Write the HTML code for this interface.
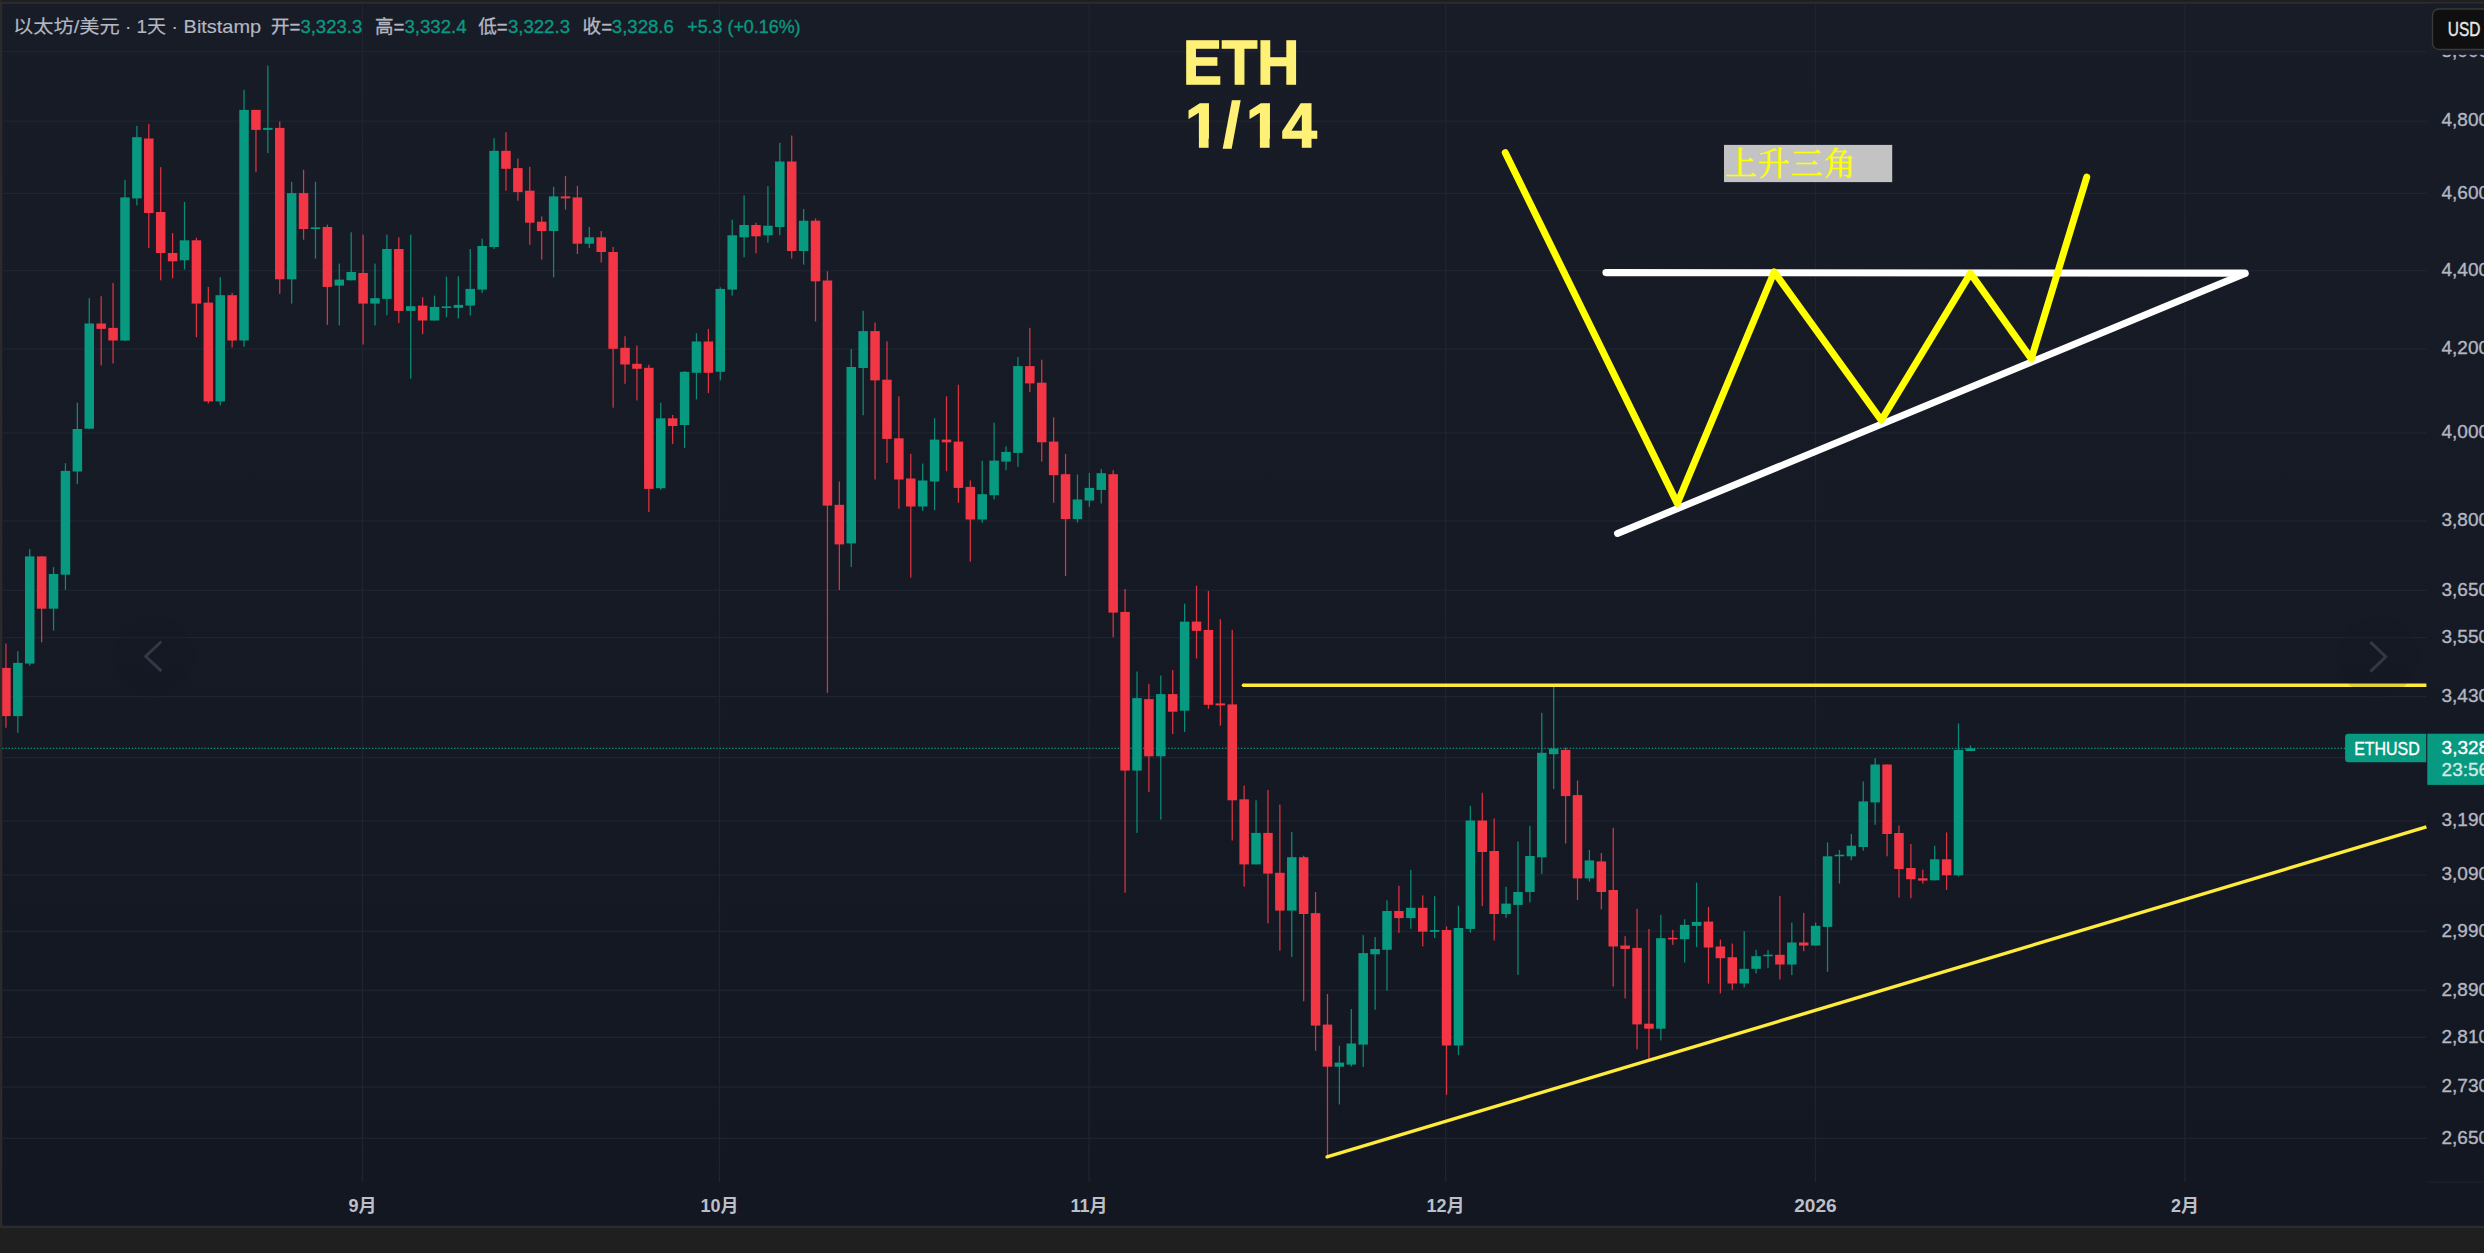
<!DOCTYPE html>
<html lang="zh-CN"><head><meta charset="utf-8"><title>ETH 1/14</title>
<style>html,body{margin:0;padding:0;background:#1f1f1f;overflow:hidden}body{width:2484px;height:1253px}svg text{white-space:pre}</style></head>
<body>
<svg width="2484" height="1253" viewBox="0 0 2484 1253" style="display:block">
<defs><linearGradient id="bg" gradientUnits="userSpaceOnUse" x1="0" y1="3.8" x2="0" y2="1225.8"><stop offset="0" stop-color="#181c27"/><stop offset="1" stop-color="#131722"/></linearGradient><clipPath id="pane"><rect x="2.2" y="3.8" width="2424.2" height="1178"/></clipPath></defs>
<rect x="0" y="0" width="2484" height="1253" fill="#1f1f1f"/>
<rect x="0" y="1.8" width="2484" height="1226.2" fill="#2b2c30"/>
<rect x="0" y="0" width="1" height="1228" fill="#2b2a28"/>
<rect x="2.2" y="3.8" width="2481.8" height="1222" fill="url(#bg)"/>
<rect x="2.2" y="50.85" width="2424.2" height="1.3" fill="#202432"/>
<rect x="2.2" y="120.45" width="2424.2" height="1.3" fill="#202432"/>
<rect x="2.2" y="192.75" width="2424.2" height="1.3" fill="#202432"/>
<rect x="2.2" y="269.95" width="2424.2" height="1.3" fill="#202432"/>
<rect x="2.2" y="348.35" width="2424.2" height="1.3" fill="#202432"/>
<rect x="2.2" y="432.25" width="2424.2" height="1.3" fill="#202432"/>
<rect x="2.2" y="520.25" width="2424.2" height="1.3" fill="#202432"/>
<rect x="2.2" y="589.75" width="2424.2" height="1.3" fill="#202432"/>
<rect x="2.2" y="636.95" width="2424.2" height="1.3" fill="#202432"/>
<rect x="2.2" y="695.95" width="2424.2" height="1.3" fill="#202432"/>
<rect x="2.2" y="756.95" width="2424.2" height="1.3" fill="#202432"/>
<rect x="2.2" y="820.35" width="2424.2" height="1.3" fill="#202432"/>
<rect x="2.2" y="874.35" width="2424.2" height="1.3" fill="#202432"/>
<rect x="2.2" y="930.65" width="2424.2" height="1.3" fill="#202432"/>
<rect x="2.2" y="989.65" width="2424.2" height="1.3" fill="#202432"/>
<rect x="2.2" y="1036.75" width="2424.2" height="1.3" fill="#202432"/>
<rect x="2.2" y="1086.35" width="2424.2" height="1.3" fill="#202432"/>
<rect x="2.2" y="1137.75" width="2424.2" height="1.3" fill="#202432"/>
<rect x="361.85" y="3.8" width="1.3" height="1178.2" fill="#202432"/>
<rect x="718.85" y="3.8" width="1.3" height="1178.2" fill="#202432"/>
<rect x="1088.45" y="3.8" width="1.3" height="1178.2" fill="#202432"/>
<rect x="1444.95" y="3.8" width="1.3" height="1178.2" fill="#202432"/>
<rect x="1814.85" y="3.8" width="1.3" height="1178.2" fill="#202432"/>
<rect x="2184.25" y="3.8" width="1.3" height="1178.2" fill="#202432"/>
<rect x="2426.4" y="1181.3" width="57.6" height="1.3" fill="#1f2024"/>
<line x1="2.2" y1="748.4" x2="2345" y2="748.4" stroke="#0a8f7b" stroke-width="1.35" stroke-dasharray="1.4 1.76"/>
<g clip-path="url(#pane)">
<rect x="5.30" y="643.6" width="1.25" height="84.2" fill="#f23645" fill-opacity="0.9"/><rect x="1.17" y="667.9" width="9.5" height="48.2" fill="#f23645"/>
<rect x="17.20" y="651.2" width="1.25" height="81.6" fill="#089981" fill-opacity="0.9"/><rect x="13.08" y="662.9" width="9.5" height="53.2" fill="#089981"/>
<rect x="29.11" y="549.1" width="1.25" height="116.5" fill="#089981" fill-opacity="0.9"/><rect x="24.98" y="556.4" width="9.5" height="107.2" fill="#089981"/>
<rect x="41.01" y="556.4" width="1.25" height="85.9" fill="#f23645" fill-opacity="0.9"/><rect x="36.89" y="556.4" width="9.5" height="52.3" fill="#f23645"/>
<rect x="52.92" y="567.1" width="1.25" height="63.5" fill="#089981" fill-opacity="0.9"/><rect x="48.79" y="574.0" width="9.5" height="34.7" fill="#089981"/>
<rect x="64.82" y="463.2" width="1.25" height="126.5" fill="#089981" fill-opacity="0.9"/><rect x="60.70" y="470.9" width="9.5" height="103.8" fill="#089981"/>
<rect x="76.73" y="402.7" width="1.25" height="81.5" fill="#089981" fill-opacity="0.9"/><rect x="72.61" y="429.0" width="9.5" height="42.5" fill="#089981"/>
<rect x="88.64" y="298.2" width="1.25" height="131.1" fill="#089981" fill-opacity="0.9"/><rect x="84.51" y="323.5" width="9.5" height="105.2" fill="#089981"/>
<rect x="100.54" y="296.2" width="1.25" height="69.3" fill="#f23645" fill-opacity="0.9"/><rect x="96.42" y="323.5" width="9.5" height="5.4" fill="#f23645"/>
<rect x="112.45" y="282.9" width="1.25" height="80.6" fill="#f23645" fill-opacity="0.9"/><rect x="108.32" y="327.9" width="9.5" height="12.6" fill="#f23645"/>
<rect x="124.36" y="179.8" width="1.25" height="161.2" fill="#089981" fill-opacity="0.9"/><rect x="120.23" y="197.4" width="9.5" height="143.1" fill="#089981"/>
<rect x="136.26" y="125.9" width="1.25" height="79.5" fill="#089981" fill-opacity="0.9"/><rect x="132.14" y="137.2" width="9.5" height="61.2" fill="#089981"/>
<rect x="148.17" y="123.9" width="1.25" height="124.1" fill="#f23645" fill-opacity="0.9"/><rect x="144.04" y="138.5" width="9.5" height="74.5" fill="#f23645"/>
<rect x="160.07" y="167.1" width="1.25" height="113.2" fill="#f23645" fill-opacity="0.9"/><rect x="155.95" y="212.0" width="9.5" height="41.0" fill="#f23645"/>
<rect x="171.98" y="233.0" width="1.25" height="45.3" fill="#f23645" fill-opacity="0.9"/><rect x="167.85" y="253.0" width="9.5" height="8.3" fill="#f23645"/>
<rect x="183.89" y="202.0" width="1.25" height="67.6" fill="#089981" fill-opacity="0.9"/><rect x="179.76" y="240.3" width="9.5" height="20.0" fill="#089981"/>
<rect x="195.79" y="237.7" width="1.25" height="99.5" fill="#f23645" fill-opacity="0.9"/><rect x="191.67" y="240.3" width="9.5" height="63.3" fill="#f23645"/>
<rect x="207.70" y="286.9" width="1.25" height="116.5" fill="#f23645" fill-opacity="0.9"/><rect x="203.57" y="302.6" width="9.5" height="98.8" fill="#f23645"/>
<rect x="219.60" y="277.3" width="1.25" height="128.1" fill="#089981" fill-opacity="0.9"/><rect x="215.48" y="295.2" width="9.5" height="106.2" fill="#089981"/>
<rect x="231.51" y="292.9" width="1.25" height="54.6" fill="#f23645" fill-opacity="0.9"/><rect x="227.38" y="295.2" width="9.5" height="45.3" fill="#f23645"/>
<rect x="243.42" y="89.9" width="1.25" height="256.9" fill="#089981" fill-opacity="0.9"/><rect x="239.29" y="109.9" width="9.5" height="230.6" fill="#089981"/>
<rect x="255.32" y="109.9" width="1.25" height="62.2" fill="#f23645" fill-opacity="0.9"/><rect x="251.20" y="109.9" width="9.5" height="20.0" fill="#f23645"/>
<rect x="267.23" y="65.6" width="1.25" height="87.5" fill="#089981" fill-opacity="0.9"/><rect x="263.10" y="127.9" width="9.5" height="2.0" fill="#089981"/>
<rect x="279.13" y="121.5" width="1.25" height="172.4" fill="#f23645" fill-opacity="0.9"/><rect x="275.01" y="127.9" width="9.5" height="151.4" fill="#f23645"/>
<rect x="291.04" y="181.8" width="1.25" height="121.8" fill="#089981" fill-opacity="0.9"/><rect x="286.91" y="193.1" width="9.5" height="86.2" fill="#089981"/>
<rect x="302.95" y="169.8" width="1.25" height="69.9" fill="#f23645" fill-opacity="0.9"/><rect x="298.82" y="193.1" width="9.5" height="35.9" fill="#f23645"/>
<rect x="314.85" y="181.8" width="1.25" height="76.8" fill="#089981" fill-opacity="0.9"/><rect x="310.73" y="227.4" width="9.5" height="1.6" fill="#089981"/>
<rect x="326.76" y="224.7" width="1.25" height="100.2" fill="#f23645" fill-opacity="0.9"/><rect x="322.63" y="227.0" width="9.5" height="59.9" fill="#f23645"/>
<rect x="338.66" y="263.6" width="1.25" height="61.9" fill="#089981" fill-opacity="0.9"/><rect x="334.54" y="279.6" width="9.5" height="6.0" fill="#089981"/>
<rect x="350.57" y="232.3" width="1.25" height="48.0" fill="#089981" fill-opacity="0.9"/><rect x="346.44" y="272.0" width="9.5" height="8.3" fill="#089981"/>
<rect x="362.48" y="234.7" width="1.25" height="109.8" fill="#f23645" fill-opacity="0.9"/><rect x="358.35" y="273.0" width="9.5" height="30.6" fill="#f23645"/>
<rect x="374.38" y="263.6" width="1.25" height="61.9" fill="#089981" fill-opacity="0.9"/><rect x="370.26" y="298.2" width="9.5" height="5.4" fill="#089981"/>
<rect x="386.29" y="234.7" width="1.25" height="80.5" fill="#089981" fill-opacity="0.9"/><rect x="382.16" y="249.0" width="9.5" height="49.9" fill="#089981"/>
<rect x="398.19" y="237.3" width="1.25" height="85.6" fill="#f23645" fill-opacity="0.9"/><rect x="394.07" y="249.0" width="9.5" height="61.9" fill="#f23645"/>
<rect x="410.10" y="234.7" width="1.25" height="144.1" fill="#089981" fill-opacity="0.9"/><rect x="405.97" y="306.2" width="9.5" height="4.7" fill="#089981"/>
<rect x="422.00" y="297.2" width="1.25" height="37.0" fill="#f23645" fill-opacity="0.9"/><rect x="417.88" y="305.6" width="9.5" height="14.9" fill="#f23645"/>
<rect x="433.91" y="295.6" width="1.25" height="24.9" fill="#089981" fill-opacity="0.9"/><rect x="429.79" y="306.9" width="9.5" height="13.6" fill="#089981"/>
<rect x="445.82" y="276.6" width="1.25" height="40.6" fill="#089981" fill-opacity="0.9"/><rect x="441.69" y="306.4" width="9.5" height="1.6" fill="#089981"/>
<rect x="457.72" y="276.3" width="1.25" height="42.2" fill="#089981" fill-opacity="0.9"/><rect x="453.60" y="304.9" width="9.5" height="3.0" fill="#089981"/>
<rect x="469.63" y="249.0" width="1.25" height="66.5" fill="#089981" fill-opacity="0.9"/><rect x="465.50" y="288.9" width="9.5" height="16.7" fill="#089981"/>
<rect x="481.54" y="238.7" width="1.25" height="54.2" fill="#089981" fill-opacity="0.9"/><rect x="477.41" y="246.0" width="9.5" height="43.6" fill="#089981"/>
<rect x="493.44" y="138.2" width="1.25" height="110.8" fill="#089981" fill-opacity="0.9"/><rect x="489.32" y="150.8" width="9.5" height="96.2" fill="#089981"/>
<rect x="505.35" y="132.2" width="1.25" height="58.5" fill="#f23645" fill-opacity="0.9"/><rect x="501.22" y="150.8" width="9.5" height="18.0" fill="#f23645"/>
<rect x="517.25" y="158.5" width="1.25" height="42.2" fill="#f23645" fill-opacity="0.9"/><rect x="513.13" y="168.1" width="9.5" height="24.0" fill="#f23645"/>
<rect x="529.16" y="166.8" width="1.25" height="77.9" fill="#f23645" fill-opacity="0.9"/><rect x="525.03" y="190.7" width="9.5" height="32.0" fill="#f23645"/>
<rect x="541.07" y="216.4" width="1.25" height="43.2" fill="#f23645" fill-opacity="0.9"/><rect x="536.94" y="221.7" width="9.5" height="9.3" fill="#f23645"/>
<rect x="552.97" y="186.8" width="1.25" height="90.5" fill="#089981" fill-opacity="0.9"/><rect x="548.85" y="196.4" width="9.5" height="34.6" fill="#089981"/>
<rect x="564.88" y="176.1" width="1.25" height="33.6" fill="#f23645" fill-opacity="0.9"/><rect x="560.75" y="196.4" width="9.5" height="2.0" fill="#f23645"/>
<rect x="576.78" y="185.8" width="1.25" height="68.2" fill="#f23645" fill-opacity="0.9"/><rect x="572.66" y="197.4" width="9.5" height="46.3" fill="#f23645"/>
<rect x="588.69" y="227.0" width="1.25" height="21.0" fill="#089981" fill-opacity="0.9"/><rect x="584.56" y="237.3" width="9.5" height="6.4" fill="#089981"/>
<rect x="600.60" y="231.0" width="1.25" height="31.6" fill="#f23645" fill-opacity="0.9"/><rect x="596.47" y="237.3" width="9.5" height="14.7" fill="#f23645"/>
<rect x="612.50" y="247.0" width="1.25" height="160.7" fill="#f23645" fill-opacity="0.9"/><rect x="608.38" y="252.0" width="9.5" height="96.8" fill="#f23645"/>
<rect x="624.41" y="336.2" width="1.25" height="47.6" fill="#f23645" fill-opacity="0.9"/><rect x="620.28" y="347.8" width="9.5" height="16.7" fill="#f23645"/>
<rect x="636.31" y="345.5" width="1.25" height="54.9" fill="#f23645" fill-opacity="0.9"/><rect x="632.19" y="363.8" width="9.5" height="5.0" fill="#f23645"/>
<rect x="648.22" y="364.8" width="1.25" height="147.3" fill="#f23645" fill-opacity="0.9"/><rect x="644.09" y="367.8" width="9.5" height="121.1" fill="#f23645"/>
<rect x="660.12" y="402.7" width="1.25" height="87.2" fill="#089981" fill-opacity="0.9"/><rect x="656.00" y="418.3" width="9.5" height="69.9" fill="#089981"/>
<rect x="672.03" y="415.0" width="1.25" height="28.9" fill="#f23645" fill-opacity="0.9"/><rect x="667.91" y="418.3" width="9.5" height="7.7" fill="#f23645"/>
<rect x="683.94" y="371.1" width="1.25" height="76.9" fill="#089981" fill-opacity="0.9"/><rect x="679.81" y="371.8" width="9.5" height="53.2" fill="#089981"/>
<rect x="695.84" y="333.2" width="1.25" height="66.2" fill="#089981" fill-opacity="0.9"/><rect x="691.72" y="341.5" width="9.5" height="31.3" fill="#089981"/>
<rect x="707.75" y="328.9" width="1.25" height="64.2" fill="#f23645" fill-opacity="0.9"/><rect x="703.62" y="341.5" width="9.5" height="31.3" fill="#f23645"/>
<rect x="719.65" y="287.3" width="1.25" height="93.1" fill="#089981" fill-opacity="0.9"/><rect x="715.53" y="288.9" width="9.5" height="82.9" fill="#089981"/>
<rect x="731.56" y="219.7" width="1.25" height="75.9" fill="#089981" fill-opacity="0.9"/><rect x="727.44" y="235.3" width="9.5" height="54.3" fill="#089981"/>
<rect x="743.47" y="195.4" width="1.25" height="61.9" fill="#089981" fill-opacity="0.9"/><rect x="739.34" y="225.0" width="9.5" height="12.3" fill="#089981"/>
<rect x="755.37" y="222.7" width="1.25" height="30.6" fill="#f23645" fill-opacity="0.9"/><rect x="751.25" y="225.0" width="9.5" height="11.3" fill="#f23645"/>
<rect x="767.28" y="186.1" width="1.25" height="56.6" fill="#089981" fill-opacity="0.9"/><rect x="763.15" y="225.7" width="9.5" height="9.6" fill="#089981"/>
<rect x="779.19" y="142.8" width="1.25" height="92.5" fill="#089981" fill-opacity="0.9"/><rect x="775.06" y="161.5" width="9.5" height="65.5" fill="#089981"/>
<rect x="791.09" y="135.5" width="1.25" height="123.1" fill="#f23645" fill-opacity="0.9"/><rect x="786.97" y="161.5" width="9.5" height="89.5" fill="#f23645"/>
<rect x="803.00" y="209.0" width="1.25" height="55.6" fill="#089981" fill-opacity="0.9"/><rect x="798.87" y="220.7" width="9.5" height="30.3" fill="#089981"/>
<rect x="814.90" y="218.4" width="1.25" height="103.1" fill="#f23645" fill-opacity="0.9"/><rect x="810.78" y="220.7" width="9.5" height="60.6" fill="#f23645"/>
<rect x="826.81" y="271.3" width="1.25" height="421.5" fill="#f23645" fill-opacity="0.9"/><rect x="822.68" y="280.5" width="9.5" height="225.1" fill="#f23645"/>
<rect x="838.72" y="481.5" width="1.25" height="108.5" fill="#f23645" fill-opacity="0.9"/><rect x="834.59" y="504.8" width="9.5" height="39.6" fill="#f23645"/>
<rect x="850.62" y="349.0" width="1.25" height="218.0" fill="#089981" fill-opacity="0.9"/><rect x="846.50" y="367.0" width="9.5" height="176.4" fill="#089981"/>
<rect x="862.53" y="310.8" width="1.25" height="104.5" fill="#089981" fill-opacity="0.9"/><rect x="858.40" y="331.1" width="9.5" height="36.9" fill="#089981"/>
<rect x="874.43" y="322.5" width="1.25" height="157.0" fill="#f23645" fill-opacity="0.9"/><rect x="870.31" y="331.1" width="9.5" height="49.3" fill="#f23645"/>
<rect x="886.34" y="341.4" width="1.25" height="121.5" fill="#f23645" fill-opacity="0.9"/><rect x="882.21" y="379.7" width="9.5" height="59.2" fill="#f23645"/>
<rect x="898.25" y="396.3" width="1.25" height="112.5" fill="#f23645" fill-opacity="0.9"/><rect x="894.12" y="438.3" width="9.5" height="41.2" fill="#f23645"/>
<rect x="910.15" y="453.9" width="1.25" height="123.8" fill="#f23645" fill-opacity="0.9"/><rect x="906.03" y="478.5" width="9.5" height="28.0" fill="#f23645"/>
<rect x="922.06" y="463.6" width="1.25" height="47.2" fill="#089981" fill-opacity="0.9"/><rect x="917.93" y="480.5" width="9.5" height="26.0" fill="#089981"/>
<rect x="933.96" y="418.3" width="1.25" height="91.8" fill="#089981" fill-opacity="0.9"/><rect x="929.84" y="439.6" width="9.5" height="41.9" fill="#089981"/>
<rect x="945.87" y="396.3" width="1.25" height="74.9" fill="#f23645" fill-opacity="0.9"/><rect x="941.74" y="439.6" width="9.5" height="2.7" fill="#f23645"/>
<rect x="957.78" y="384.7" width="1.25" height="118.1" fill="#f23645" fill-opacity="0.9"/><rect x="953.65" y="441.6" width="9.5" height="46.3" fill="#f23645"/>
<rect x="969.68" y="480.5" width="1.25" height="81.2" fill="#f23645" fill-opacity="0.9"/><rect x="965.56" y="486.9" width="9.5" height="32.6" fill="#f23645"/>
<rect x="981.59" y="460.6" width="1.25" height="62.2" fill="#089981" fill-opacity="0.9"/><rect x="977.46" y="494.2" width="9.5" height="25.3" fill="#089981"/>
<rect x="993.49" y="422.6" width="1.25" height="76.9" fill="#089981" fill-opacity="0.9"/><rect x="989.37" y="460.6" width="9.5" height="34.6" fill="#089981"/>
<rect x="1005.40" y="446.3" width="1.25" height="23.9" fill="#089981" fill-opacity="0.9"/><rect x="1001.27" y="451.9" width="9.5" height="9.7" fill="#089981"/>
<rect x="1017.31" y="357.1" width="1.25" height="109.8" fill="#089981" fill-opacity="0.9"/><rect x="1013.18" y="366.1" width="9.5" height="86.8" fill="#089981"/>
<rect x="1029.21" y="327.8" width="1.25" height="64.2" fill="#f23645" fill-opacity="0.9"/><rect x="1025.09" y="366.1" width="9.5" height="17.3" fill="#f23645"/>
<rect x="1041.12" y="359.7" width="1.25" height="101.9" fill="#f23645" fill-opacity="0.9"/><rect x="1036.99" y="382.7" width="9.5" height="59.6" fill="#f23645"/>
<rect x="1053.02" y="417.3" width="1.25" height="85.5" fill="#f23645" fill-opacity="0.9"/><rect x="1048.90" y="441.6" width="9.5" height="33.6" fill="#f23645"/>
<rect x="1064.93" y="453.9" width="1.25" height="122.1" fill="#f23645" fill-opacity="0.9"/><rect x="1060.80" y="474.2" width="9.5" height="44.9" fill="#f23645"/>
<rect x="1076.84" y="474.5" width="1.25" height="48.0" fill="#089981" fill-opacity="0.9"/><rect x="1072.71" y="499.5" width="9.5" height="19.6" fill="#089981"/>
<rect x="1088.74" y="472.9" width="1.25" height="33.9" fill="#089981" fill-opacity="0.9"/><rect x="1084.62" y="487.9" width="9.5" height="12.6" fill="#089981"/>
<rect x="1100.65" y="468.9" width="1.25" height="34.6" fill="#089981" fill-opacity="0.9"/><rect x="1096.52" y="473.2" width="9.5" height="16.7" fill="#089981"/>
<rect x="1112.55" y="470.2" width="1.25" height="167.0" fill="#f23645" fill-opacity="0.9"/><rect x="1108.43" y="474.2" width="9.5" height="138.4" fill="#f23645"/>
<rect x="1124.46" y="589.0" width="1.25" height="303.8" fill="#f23645" fill-opacity="0.9"/><rect x="1120.33" y="611.9" width="9.5" height="158.7" fill="#f23645"/>
<rect x="1136.37" y="671.5" width="1.25" height="161.4" fill="#089981" fill-opacity="0.9"/><rect x="1132.24" y="698.1" width="9.5" height="72.5" fill="#089981"/>
<rect x="1148.27" y="683.8" width="1.25" height="108.2" fill="#f23645" fill-opacity="0.9"/><rect x="1144.15" y="699.1" width="9.5" height="57.2" fill="#f23645"/>
<rect x="1160.18" y="675.5" width="1.25" height="144.1" fill="#089981" fill-opacity="0.9"/><rect x="1156.05" y="694.1" width="9.5" height="62.2" fill="#089981"/>
<rect x="1172.08" y="670.1" width="1.25" height="63.9" fill="#f23645" fill-opacity="0.9"/><rect x="1167.96" y="694.1" width="9.5" height="17.6" fill="#f23645"/>
<rect x="1183.99" y="603.6" width="1.25" height="128.4" fill="#089981" fill-opacity="0.9"/><rect x="1179.86" y="621.6" width="9.5" height="89.1" fill="#089981"/>
<rect x="1195.89" y="585.6" width="1.25" height="72.9" fill="#f23645" fill-opacity="0.9"/><rect x="1191.77" y="621.6" width="9.5" height="9.3" fill="#f23645"/>
<rect x="1207.80" y="591.0" width="1.25" height="117.8" fill="#f23645" fill-opacity="0.9"/><rect x="1203.68" y="629.9" width="9.5" height="74.9" fill="#f23645"/>
<rect x="1219.71" y="619.2" width="1.25" height="106.5" fill="#f23645" fill-opacity="0.9"/><rect x="1215.58" y="703.4" width="9.5" height="2.0" fill="#f23645"/>
<rect x="1231.61" y="629.9" width="1.25" height="210.6" fill="#f23645" fill-opacity="0.9"/><rect x="1227.49" y="704.4" width="9.5" height="95.9" fill="#f23645"/>
<rect x="1243.52" y="785.6" width="1.25" height="101.1" fill="#f23645" fill-opacity="0.9"/><rect x="1239.39" y="799.3" width="9.5" height="65.1" fill="#f23645"/>
<rect x="1255.43" y="800.3" width="1.25" height="64.1" fill="#089981" fill-opacity="0.9"/><rect x="1251.30" y="832.9" width="9.5" height="31.5" fill="#089981"/>
<rect x="1267.33" y="790.0" width="1.25" height="133.4" fill="#f23645" fill-opacity="0.9"/><rect x="1263.21" y="832.9" width="9.5" height="40.7" fill="#f23645"/>
<rect x="1279.24" y="804.6" width="1.25" height="146.1" fill="#f23645" fill-opacity="0.9"/><rect x="1275.11" y="872.8" width="9.5" height="37.8" fill="#f23645"/>
<rect x="1291.14" y="832.0" width="1.25" height="125.0" fill="#089981" fill-opacity="0.9"/><rect x="1287.02" y="857.2" width="9.5" height="53.4" fill="#089981"/>
<rect x="1303.05" y="855.7" width="1.25" height="145.6" fill="#f23645" fill-opacity="0.9"/><rect x="1298.92" y="857.2" width="9.5" height="56.8" fill="#f23645"/>
<rect x="1314.95" y="892.0" width="1.25" height="158.8" fill="#f23645" fill-opacity="0.9"/><rect x="1310.83" y="913.1" width="9.5" height="112.5" fill="#f23645"/>
<rect x="1326.86" y="994.0" width="1.25" height="163.0" fill="#f23645" fill-opacity="0.9"/><rect x="1322.74" y="1024.6" width="9.5" height="42.1" fill="#f23645"/>
<rect x="1338.77" y="1045.7" width="1.25" height="58.8" fill="#089981" fill-opacity="0.9"/><rect x="1334.64" y="1062.6" width="9.5" height="4.1" fill="#089981"/>
<rect x="1350.67" y="1009.0" width="1.25" height="57.5" fill="#089981" fill-opacity="0.9"/><rect x="1346.55" y="1043.5" width="9.5" height="21.1" fill="#089981"/>
<rect x="1362.58" y="935.1" width="1.25" height="131.8" fill="#089981" fill-opacity="0.9"/><rect x="1358.45" y="953.1" width="9.5" height="91.5" fill="#089981"/>
<rect x="1374.49" y="937.1" width="1.25" height="72.6" fill="#089981" fill-opacity="0.9"/><rect x="1370.36" y="949.0" width="9.5" height="5.3" fill="#089981"/>
<rect x="1386.39" y="900.3" width="1.25" height="90.4" fill="#089981" fill-opacity="0.9"/><rect x="1382.27" y="911.0" width="9.5" height="38.8" fill="#089981"/>
<rect x="1398.30" y="885.7" width="1.25" height="47.2" fill="#f23645" fill-opacity="0.9"/><rect x="1394.17" y="911.0" width="9.5" height="7.1" fill="#f23645"/>
<rect x="1410.20" y="869.9" width="1.25" height="58.9" fill="#089981" fill-opacity="0.9"/><rect x="1406.08" y="907.8" width="9.5" height="10.3" fill="#089981"/>
<rect x="1422.11" y="895.4" width="1.25" height="51.0" fill="#f23645" fill-opacity="0.9"/><rect x="1417.98" y="907.8" width="9.5" height="23.9" fill="#f23645"/>
<rect x="1434.01" y="896.2" width="1.25" height="41.9" fill="#089981" fill-opacity="0.9"/><rect x="1429.89" y="930.1" width="9.5" height="1.7" fill="#089981"/>
<rect x="1445.92" y="926.5" width="1.25" height="168.3" fill="#f23645" fill-opacity="0.9"/><rect x="1441.80" y="930.0" width="9.5" height="115.5" fill="#f23645"/>
<rect x="1457.83" y="905.7" width="1.25" height="149.4" fill="#089981" fill-opacity="0.9"/><rect x="1453.70" y="928.0" width="9.5" height="117.5" fill="#089981"/>
<rect x="1469.73" y="805.9" width="1.25" height="126.8" fill="#089981" fill-opacity="0.9"/><rect x="1465.61" y="820.5" width="9.5" height="108.4" fill="#089981"/>
<rect x="1481.64" y="792.8" width="1.25" height="113.2" fill="#f23645" fill-opacity="0.9"/><rect x="1477.51" y="820.5" width="9.5" height="31.5" fill="#f23645"/>
<rect x="1493.55" y="818.4" width="1.25" height="122.1" fill="#f23645" fill-opacity="0.9"/><rect x="1489.42" y="851.0" width="9.5" height="63.0" fill="#f23645"/>
<rect x="1505.45" y="886.8" width="1.25" height="31.0" fill="#089981" fill-opacity="0.9"/><rect x="1501.33" y="903.6" width="9.5" height="10.4" fill="#089981"/>
<rect x="1517.36" y="841.5" width="1.25" height="133.4" fill="#089981" fill-opacity="0.9"/><rect x="1513.23" y="892.0" width="9.5" height="12.9" fill="#089981"/>
<rect x="1529.26" y="825.8" width="1.25" height="76.5" fill="#089981" fill-opacity="0.9"/><rect x="1525.14" y="856.0" width="9.5" height="36.0" fill="#089981"/>
<rect x="1541.17" y="712.9" width="1.25" height="161.1" fill="#089981" fill-opacity="0.9"/><rect x="1537.04" y="752.8" width="9.5" height="104.5" fill="#089981"/>
<rect x="1553.08" y="685.6" width="1.25" height="103.5" fill="#089981" fill-opacity="0.9"/><rect x="1548.95" y="748.5" width="9.5" height="5.7" fill="#089981"/>
<rect x="1564.98" y="747.5" width="1.25" height="96.0" fill="#f23645" fill-opacity="0.9"/><rect x="1560.86" y="749.9" width="9.5" height="46.2" fill="#f23645"/>
<rect x="1576.89" y="780.5" width="1.25" height="119.5" fill="#f23645" fill-opacity="0.9"/><rect x="1572.76" y="795.1" width="9.5" height="83.3" fill="#f23645"/>
<rect x="1588.79" y="850.0" width="1.25" height="31.6" fill="#089981" fill-opacity="0.9"/><rect x="1584.67" y="860.4" width="9.5" height="18.0" fill="#089981"/>
<rect x="1600.70" y="853.0" width="1.25" height="56.4" fill="#f23645" fill-opacity="0.9"/><rect x="1596.57" y="861.4" width="9.5" height="30.6" fill="#f23645"/>
<rect x="1612.61" y="827.7" width="1.25" height="158.8" fill="#f23645" fill-opacity="0.9"/><rect x="1608.48" y="890.0" width="9.5" height="56.5" fill="#f23645"/>
<rect x="1624.51" y="936.2" width="1.25" height="62.2" fill="#f23645" fill-opacity="0.9"/><rect x="1620.39" y="945.5" width="9.5" height="3.4" fill="#f23645"/>
<rect x="1636.42" y="908.9" width="1.25" height="140.5" fill="#f23645" fill-opacity="0.9"/><rect x="1632.29" y="947.9" width="9.5" height="76.5" fill="#f23645"/>
<rect x="1648.32" y="928.9" width="1.25" height="131.4" fill="#f23645" fill-opacity="0.9"/><rect x="1644.20" y="1023.7" width="9.5" height="5.0" fill="#f23645"/>
<rect x="1660.23" y="914.9" width="1.25" height="125.5" fill="#089981" fill-opacity="0.9"/><rect x="1656.10" y="938.2" width="9.5" height="90.5" fill="#089981"/>
<rect x="1672.14" y="929.9" width="1.25" height="15.0" fill="#f23645" fill-opacity="0.9"/><rect x="1668.01" y="937.8" width="9.5" height="1.6" fill="#f23645"/>
<rect x="1684.04" y="919.2" width="1.25" height="43.3" fill="#089981" fill-opacity="0.9"/><rect x="1679.92" y="924.9" width="9.5" height="14.3" fill="#089981"/>
<rect x="1695.95" y="882.6" width="1.25" height="64.3" fill="#089981" fill-opacity="0.9"/><rect x="1691.82" y="921.9" width="9.5" height="4.0" fill="#089981"/>
<rect x="1707.85" y="906.9" width="1.25" height="76.6" fill="#f23645" fill-opacity="0.9"/><rect x="1703.73" y="921.6" width="9.5" height="25.9" fill="#f23645"/>
<rect x="1719.76" y="939.5" width="1.25" height="53.9" fill="#f23645" fill-opacity="0.9"/><rect x="1715.63" y="946.5" width="9.5" height="11.7" fill="#f23645"/>
<rect x="1731.66" y="943.5" width="1.25" height="46.6" fill="#f23645" fill-opacity="0.9"/><rect x="1727.54" y="957.2" width="9.5" height="26.3" fill="#f23645"/>
<rect x="1743.57" y="931.2" width="1.25" height="56.3" fill="#089981" fill-opacity="0.9"/><rect x="1739.45" y="968.8" width="9.5" height="14.7" fill="#089981"/>
<rect x="1755.48" y="949.9" width="1.25" height="23.6" fill="#089981" fill-opacity="0.9"/><rect x="1751.35" y="956.2" width="9.5" height="12.6" fill="#089981"/>
<rect x="1767.38" y="949.9" width="1.25" height="18.3" fill="#089981" fill-opacity="0.9"/><rect x="1763.26" y="954.7" width="9.5" height="1.6" fill="#089981"/>
<rect x="1779.29" y="895.9" width="1.25" height="83.6" fill="#f23645" fill-opacity="0.9"/><rect x="1775.16" y="954.8" width="9.5" height="9.7" fill="#f23645"/>
<rect x="1791.20" y="922.6" width="1.25" height="52.5" fill="#089981" fill-opacity="0.9"/><rect x="1787.07" y="942.5" width="9.5" height="22.0" fill="#089981"/>
<rect x="1803.10" y="912.9" width="1.25" height="38.3" fill="#f23645" fill-opacity="0.9"/><rect x="1798.98" y="942.5" width="9.5" height="3.0" fill="#f23645"/>
<rect x="1815.01" y="922.6" width="1.25" height="22.9" fill="#089981" fill-opacity="0.9"/><rect x="1810.88" y="925.8" width="9.5" height="19.7" fill="#089981"/>
<rect x="1826.91" y="842.4" width="1.25" height="129.4" fill="#089981" fill-opacity="0.9"/><rect x="1822.79" y="856.3" width="9.5" height="70.6" fill="#089981"/>
<rect x="1838.82" y="850.0" width="1.25" height="33.6" fill="#089981" fill-opacity="0.9"/><rect x="1834.69" y="854.7" width="9.5" height="1.6" fill="#089981"/>
<rect x="1850.72" y="834.0" width="1.25" height="26.3" fill="#089981" fill-opacity="0.9"/><rect x="1846.60" y="845.7" width="9.5" height="10.6" fill="#089981"/>
<rect x="1862.63" y="781.5" width="1.25" height="69.2" fill="#089981" fill-opacity="0.9"/><rect x="1858.51" y="801.4" width="9.5" height="45.6" fill="#089981"/>
<rect x="1874.54" y="758.2" width="1.25" height="66.5" fill="#089981" fill-opacity="0.9"/><rect x="1870.41" y="764.5" width="9.5" height="37.9" fill="#089981"/>
<rect x="1886.44" y="764.5" width="1.25" height="91.8" fill="#f23645" fill-opacity="0.9"/><rect x="1882.32" y="764.5" width="9.5" height="69.5" fill="#f23645"/>
<rect x="1898.35" y="825.4" width="1.25" height="72.2" fill="#f23645" fill-opacity="0.9"/><rect x="1894.22" y="833.0" width="9.5" height="36.0" fill="#f23645"/>
<rect x="1910.26" y="844.0" width="1.25" height="54.3" fill="#f23645" fill-opacity="0.9"/><rect x="1906.13" y="868.0" width="9.5" height="11.3" fill="#f23645"/>
<rect x="1922.16" y="869.7" width="1.25" height="13.9" fill="#f23645" fill-opacity="0.9"/><rect x="1918.04" y="878.3" width="9.5" height="2.3" fill="#f23645"/>
<rect x="1934.07" y="845.7" width="1.25" height="34.6" fill="#089981" fill-opacity="0.9"/><rect x="1929.94" y="859.3" width="9.5" height="21.0" fill="#089981"/>
<rect x="1945.97" y="832.4" width="1.25" height="57.6" fill="#f23645" fill-opacity="0.9"/><rect x="1941.85" y="859.3" width="9.5" height="16.0" fill="#f23645"/>
<rect x="1957.88" y="723.5" width="1.25" height="152.8" fill="#089981" fill-opacity="0.9"/><rect x="1953.75" y="749.9" width="9.5" height="125.4" fill="#089981"/>
<rect x="1969.79" y="745.5" width="1.25" height="5.5" fill="#089981" fill-opacity="0.9"/><rect x="1965.66" y="748.3" width="9.5" height="2.7" fill="#089981"/>
</g>
<line x1="1243.5" y1="685.2" x2="2426.4" y2="685.2" stroke="#ffeb3b" stroke-width="3.6" stroke-linecap="butt"/>
<circle cx="1243.5" cy="685.2" r="1.8" fill="#ffeb3b"/>
<line x1="1327" y1="1156.9" x2="2426.4" y2="826.9" stroke="#ffeb3b" stroke-width="3.4" stroke-linecap="butt"/>
<circle cx="1327" cy="1156.9" r="1.7" fill="#ffeb3b"/>
<circle cx="153.7" cy="656.5" r="40" fill="#0c0e16" fill-opacity="0.11"/>
<circle cx="2377.6" cy="656.7" r="40" fill="#0c0e16" fill-opacity="0.11"/>
<polyline points="161.4,641.5 145.6,656.3 161.4,671.2" fill="none" stroke="#333746" stroke-width="3"/>
<polyline points="2370.4,642.1 2385.7,656.7 2370.4,671.6" fill="none" stroke="#333746" stroke-width="3"/>
<line x1="1606" y1="272.6" x2="2245" y2="273.2" stroke="#ffffff" stroke-width="7.2" stroke-linecap="round"/>
<line x1="1617.5" y1="533.4" x2="2245" y2="273.6" stroke="#ffffff" stroke-width="7" stroke-linecap="round"/>
<polyline points="1505.3,152.7 1677.3,503.4 1774.2,272 1881.3,420.2 1970.5,273.4 2031.3,358.8 2086.7,177.2" fill="none" stroke="#ffff00" stroke-width="7" stroke-linecap="round" stroke-linejoin="round"/>
<rect x="1724" y="144.9" width="168.2" height="37.2" fill="#c3c3c3"/>
<text x="1724.8" y="175.0" font-family="'Liberation Serif','Noto Serif CJK SC',serif" font-size="32" fill="#ffff00" stroke="#ffff00" stroke-width="0.45" textLength="131" lengthAdjust="spacing">上升三角</text>
<text x="1182.9" y="83.9" font-family="'Liberation Sans','Noto Sans CJK SC',sans-serif" font-size="62.7" font-weight="bold" fill="#fff176" stroke="#fff176" stroke-width="1.4" textLength="116.5" lengthAdjust="spacingAndGlyphs">ETH</text>
<text x="1184.9 1222.9 1245.9 1282.0" y="147.0" font-family="'Liberation Sans','Noto Sans CJK SC',sans-serif" font-size="62.7" font-weight="bold" fill="#fff176" stroke="#fff176" stroke-width="1.4">1/14</text>
<rect x="1187.3" y="138.6" width="11.6" height="10.4" fill="url(#bg)"/><rect x="1208.6" y="138.6" width="11.0" height="10.4" fill="url(#bg)"/>
<rect x="1248.3" y="138.6" width="11.6" height="10.4" fill="url(#bg)"/><rect x="1269.6" y="138.6" width="11.0" height="10.4" fill="url(#bg)"/>
<text y="32.8" font-family="'Liberation Sans','Noto Sans CJK SC',sans-serif" font-size="18.5" fill="#b4b7c1" stroke="#b4b7c1" stroke-width="0.15"><tspan x="12.9" textLength="106.9" lengthAdjust="spacingAndGlyphs">以太坊/美元</tspan><tspan x="119.6" textLength="63.5" lengthAdjust="spacingAndGlyphs"> · 1天 · </tspan><tspan x="183.6" textLength="77.5" lengthAdjust="spacingAndGlyphs">Bitstamp</tspan></text>
<text x="271.0" y="32.8" font-family="'Liberation Sans','Noto Sans CJK SC',sans-serif" font-size="18.5" fill="#b4b7c1" textLength="29.4" lengthAdjust="spacingAndGlyphs" stroke="#b4b7c1" stroke-width="0.35">开=</text>
<text x="300.4" y="32.8" font-family="'Liberation Sans','Noto Sans CJK SC',sans-serif" font-size="18.5" fill="#089981" textLength="61.8" lengthAdjust="spacingAndGlyphs" stroke="#089981" stroke-width="0.35">3,323.3</text>
<text x="375.0" y="32.8" font-family="'Liberation Sans','Noto Sans CJK SC',sans-serif" font-size="18.5" fill="#b4b7c1" textLength="29.4" lengthAdjust="spacingAndGlyphs" stroke="#b4b7c1" stroke-width="0.35">高=</text>
<text x="404.4" y="32.8" font-family="'Liberation Sans','Noto Sans CJK SC',sans-serif" font-size="18.5" fill="#089981" textLength="62.3" lengthAdjust="spacingAndGlyphs" stroke="#089981" stroke-width="0.35">3,332.4</text>
<text x="478.2" y="32.8" font-family="'Liberation Sans','Noto Sans CJK SC',sans-serif" font-size="18.5" fill="#b4b7c1" textLength="29.4" lengthAdjust="spacingAndGlyphs" stroke="#b4b7c1" stroke-width="0.35">低=</text>
<text x="507.9" y="32.8" font-family="'Liberation Sans','Noto Sans CJK SC',sans-serif" font-size="18.5" fill="#089981" textLength="62.1" lengthAdjust="spacingAndGlyphs" stroke="#089981" stroke-width="0.35">3,322.3</text>
<text x="582.6" y="32.8" font-family="'Liberation Sans','Noto Sans CJK SC',sans-serif" font-size="18.5" fill="#b4b7c1" textLength="29.4" lengthAdjust="spacingAndGlyphs" stroke="#b4b7c1" stroke-width="0.35">收=</text>
<text x="611.8" y="32.8" font-family="'Liberation Sans','Noto Sans CJK SC',sans-serif" font-size="18.5" fill="#089981" textLength="62.0" lengthAdjust="spacingAndGlyphs" stroke="#089981" stroke-width="0.35">3,328.6</text>
<text x="687.2" y="32.8" font-family="'Liberation Sans','Noto Sans CJK SC',sans-serif" font-size="18.5" fill="#089981" textLength="113.3" lengthAdjust="spacingAndGlyphs" stroke="#089981" stroke-width="0.35">+5.3 (+0.16%)</text>
<text x="2441.5" y="56.7" font-family="'Liberation Sans','Noto Sans CJK SC',sans-serif" font-size="19" fill="#b4b7c1" stroke="#b4b7c1" stroke-width="0.35">5,000</text>
<text x="2441.5" y="126.3" font-family="'Liberation Sans','Noto Sans CJK SC',sans-serif" font-size="19" fill="#b4b7c1" stroke="#b4b7c1" stroke-width="0.35">4,800</text>
<text x="2441.5" y="198.6" font-family="'Liberation Sans','Noto Sans CJK SC',sans-serif" font-size="19" fill="#b4b7c1" stroke="#b4b7c1" stroke-width="0.35">4,600</text>
<text x="2441.5" y="275.8" font-family="'Liberation Sans','Noto Sans CJK SC',sans-serif" font-size="19" fill="#b4b7c1" stroke="#b4b7c1" stroke-width="0.35">4,400</text>
<text x="2441.5" y="354.2" font-family="'Liberation Sans','Noto Sans CJK SC',sans-serif" font-size="19" fill="#b4b7c1" stroke="#b4b7c1" stroke-width="0.35">4,200</text>
<text x="2441.5" y="438.09999999999997" font-family="'Liberation Sans','Noto Sans CJK SC',sans-serif" font-size="19" fill="#b4b7c1" stroke="#b4b7c1" stroke-width="0.35">4,000</text>
<text x="2441.5" y="526.1" font-family="'Liberation Sans','Noto Sans CJK SC',sans-serif" font-size="19" fill="#b4b7c1" stroke="#b4b7c1" stroke-width="0.35">3,800</text>
<text x="2441.5" y="595.6" font-family="'Liberation Sans','Noto Sans CJK SC',sans-serif" font-size="19" fill="#b4b7c1" stroke="#b4b7c1" stroke-width="0.35">3,650</text>
<text x="2441.5" y="642.8000000000001" font-family="'Liberation Sans','Noto Sans CJK SC',sans-serif" font-size="19" fill="#b4b7c1" stroke="#b4b7c1" stroke-width="0.35">3,550</text>
<text x="2441.5" y="701.8000000000001" font-family="'Liberation Sans','Noto Sans CJK SC',sans-serif" font-size="19" fill="#b4b7c1" stroke="#b4b7c1" stroke-width="0.35">3,430</text>
<text x="2441.5" y="826.2" font-family="'Liberation Sans','Noto Sans CJK SC',sans-serif" font-size="19" fill="#b4b7c1" stroke="#b4b7c1" stroke-width="0.35">3,190</text>
<text x="2441.5" y="880.2" font-family="'Liberation Sans','Noto Sans CJK SC',sans-serif" font-size="19" fill="#b4b7c1" stroke="#b4b7c1" stroke-width="0.35">3,090</text>
<text x="2441.5" y="936.5" font-family="'Liberation Sans','Noto Sans CJK SC',sans-serif" font-size="19" fill="#b4b7c1" stroke="#b4b7c1" stroke-width="0.35">2,990</text>
<text x="2441.5" y="995.5" font-family="'Liberation Sans','Noto Sans CJK SC',sans-serif" font-size="19" fill="#b4b7c1" stroke="#b4b7c1" stroke-width="0.35">2,890</text>
<text x="2441.5" y="1042.6000000000001" font-family="'Liberation Sans','Noto Sans CJK SC',sans-serif" font-size="19" fill="#b4b7c1" stroke="#b4b7c1" stroke-width="0.35">2,810</text>
<text x="2441.5" y="1092.2" font-family="'Liberation Sans','Noto Sans CJK SC',sans-serif" font-size="19" fill="#b4b7c1" stroke="#b4b7c1" stroke-width="0.35">2,730</text>
<text x="2441.5" y="1143.6000000000001" font-family="'Liberation Sans','Noto Sans CJK SC',sans-serif" font-size="19" fill="#b4b7c1" stroke="#b4b7c1" stroke-width="0.35">2,650</text>
<rect x="2427.2" y="3.8" width="57" height="51" fill="#181c27"/>
<rect x="2432.5" y="9" width="70" height="40.5" rx="6.5" fill="#0f0f0f" stroke="#3a3a3a" stroke-width="1.3"/>
<text x="2447.8" y="36.0" font-family="'Liberation Sans','Noto Sans CJK SC',sans-serif" font-size="19.5" fill="#e6e6e6" textLength="32.6" lengthAdjust="spacingAndGlyphs" stroke="#e6e6e6" stroke-width="0.4">USD</text>
<path d="M2348.3 733.7 H2426.2 V762.2 H2348.3 Q2345.1 762.2 2345.1 759 V736.9 Q2345.1 733.7 2348.3 733.7 Z" fill="#089981"/>
<rect x="2427.3" y="733.7" width="60" height="51.2" fill="#089981"/>
<text x="2354.2" y="754.6" font-family="'Liberation Sans','Noto Sans CJK SC',sans-serif" font-size="18" fill="#ffffff" textLength="65.6" lengthAdjust="spacingAndGlyphs" stroke="#ffffff" stroke-width="0.35">ETHUSD</text>
<text x="2441.6" y="754.2" font-family="'Liberation Sans','Noto Sans CJK SC',sans-serif" font-size="19" fill="#ffffff" stroke="#ffffff" stroke-width="0.35">3,328.6</text>
<text x="2441.6" y="776.2" font-family="'Liberation Sans','Noto Sans CJK SC',sans-serif" font-size="19" fill="#ceebe6" stroke="#ceebe6" stroke-width="0.35">23:56:01</text>
<text x="362.5" y="1211.8" font-family="'Liberation Sans','Noto Sans CJK SC',sans-serif" font-size="18" fill="#bcbfc8" font-weight="bold" text-anchor="middle">9月</text>
<text x="719.5" y="1211.8" font-family="'Liberation Sans','Noto Sans CJK SC',sans-serif" font-size="18" fill="#bcbfc8" font-weight="bold" text-anchor="middle">10月</text>
<text x="1089.1" y="1211.8" font-family="'Liberation Sans','Noto Sans CJK SC',sans-serif" font-size="18" fill="#bcbfc8" font-weight="bold" text-anchor="middle">11月</text>
<text x="1445.6" y="1211.8" font-family="'Liberation Sans','Noto Sans CJK SC',sans-serif" font-size="18" fill="#bcbfc8" font-weight="bold" text-anchor="middle">12月</text>
<text x="1815.5" y="1211.8" font-family="'Liberation Sans','Noto Sans CJK SC',sans-serif" font-size="18" fill="#bcbfc8" textLength="42.5" lengthAdjust="spacingAndGlyphs" font-weight="bold" text-anchor="middle">2026</text>
<text x="2184.9" y="1211.8" font-family="'Liberation Sans','Noto Sans CJK SC',sans-serif" font-size="18" fill="#bcbfc8" font-weight="bold" text-anchor="middle">2月</text>
</svg>
</body></html>
